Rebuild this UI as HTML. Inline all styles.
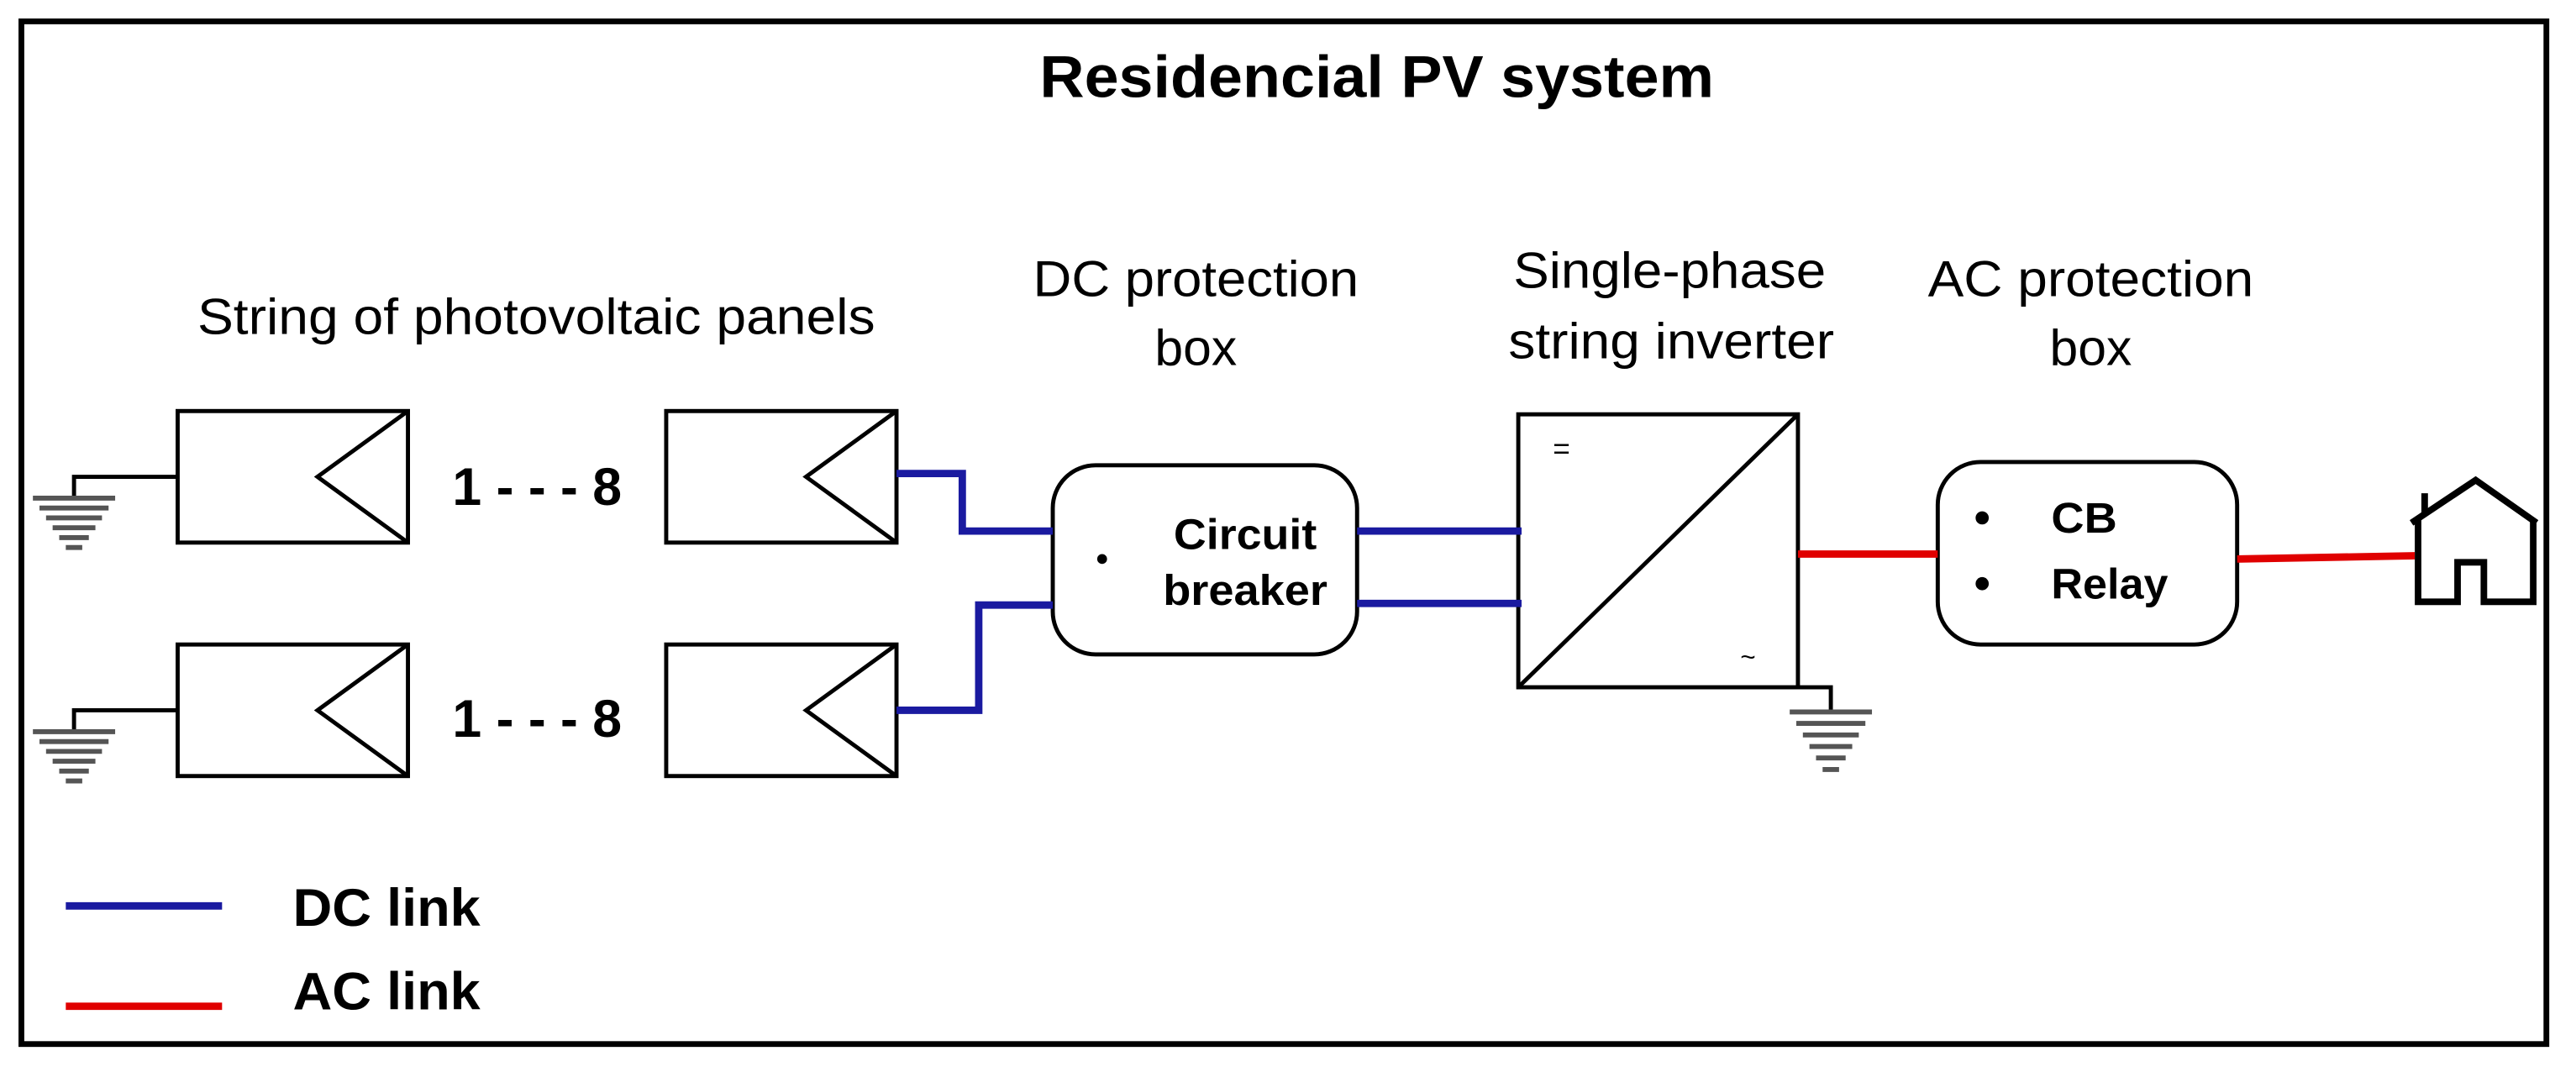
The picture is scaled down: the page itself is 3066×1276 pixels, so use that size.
<!DOCTYPE html>
<html><head><style>html,body{margin:0;padding:0;background:#fff}svg{display:block}</style></head>
<body>
<svg width="3066" height="1276" viewBox="0 0 1566 652" preserveAspectRatio="none" xmlns="http://www.w3.org/2000/svg" font-family="Liberation Sans, Arial, sans-serif">
<rect x="0" y="0" width="1566" height="652" fill="#fff"/>
<rect x="13" y="13" width="1535" height="622" fill="none" stroke="#000" stroke-width="3.5"/>
<text x="837" y="59" text-anchor="middle" font-size="36" font-weight="bold" textLength="410" lengthAdjust="spacingAndGlyphs">Residencial PV system</text>
<g font-size="31" text-anchor="middle">
<text x="326" y="203" textLength="412" lengthAdjust="spacingAndGlyphs">String of photovoltaic panels</text>
<text x="727" y="180" textLength="198" lengthAdjust="spacingAndGlyphs">DC protection</text>
<text x="727" y="222">box</text>
<text x="1015" y="175" textLength="190" lengthAdjust="spacingAndGlyphs">Single-phase</text>
<text x="1016" y="218" textLength="198" lengthAdjust="spacingAndGlyphs">string inverter</text>
<text x="1271" y="180" textLength="198" lengthAdjust="spacingAndGlyphs">AC protection</text>
<text x="1271" y="222">box</text>
</g>
<g fill="none" stroke="#000" stroke-width="2.5">
<rect x="108" y="250" width="140" height="80"/><polyline points="248,250 193,290 248,330"/>
<rect x="405" y="250" width="140" height="80"/><polyline points="545,250 490,290 545,330"/>
<rect x="108" y="392" width="140" height="80"/><polyline points="248,392 193,432 248,472"/>
<rect x="405" y="392" width="140" height="80"/><polyline points="545,392 490,432 545,472"/>
<polyline points="108,290 45,290 45,302"/>
<polyline points="108,432 45,432 45,444"/>
<rect x="640" y="283" width="185" height="115" rx="26"/>
<rect x="923" y="252" width="170" height="166"/>
<line x1="923" y1="418" x2="1093" y2="252"/>
<polyline points="1093,418 1113,418 1113,432"/>
<rect x="1178" y="281" width="182" height="111" rx="26"/>
</g>
<g stroke="#555" stroke-width="3">
<line x1="20" y1="303" x2="70" y2="303"/><line x1="24" y1="309" x2="66" y2="309"/><line x1="28" y1="315" x2="62" y2="315"/><line x1="32" y1="321" x2="58" y2="321"/><line x1="36" y1="327" x2="54" y2="327"/><line x1="40" y1="333" x2="50" y2="333"/>
<line x1="20" y1="445" x2="70" y2="445"/><line x1="24" y1="451" x2="66" y2="451"/><line x1="28" y1="457" x2="62" y2="457"/><line x1="32" y1="463" x2="58" y2="463"/><line x1="36" y1="469" x2="54" y2="469"/><line x1="40" y1="475" x2="50" y2="475"/>
<line x1="1088" y1="433" x2="1138" y2="433"/><line x1="1092" y1="440" x2="1134" y2="440"/><line x1="1096" y1="447" x2="1130" y2="447"/><line x1="1100" y1="454" x2="1126" y2="454"/><line x1="1104" y1="461" x2="1122" y2="461"/><line x1="1108" y1="468" x2="1118" y2="468"/>
</g>
<g font-size="32" font-weight="bold">
<text x="275" y="307" textLength="103" lengthAdjust="spacingAndGlyphs">1 - - - 8</text>
<text x="275" y="448" textLength="103" lengthAdjust="spacingAndGlyphs">1 - - - 8</text>
</g>
<g fill="none" stroke="#1a1aa0" stroke-width="4.5">
<polyline points="545,288 585,288 585,323 640,323"/>
<polyline points="545,432 595,432 595,368 640,368"/>
<line x1="825" y1="323" x2="925" y2="323"/>
<line x1="825" y1="367" x2="925" y2="367"/>
<line x1="40" y1="551" x2="135" y2="551"/>
</g>
<g fill="none" stroke="#e00000" stroke-width="4.5">
<line x1="1093" y1="337" x2="1178" y2="337"/>
<line x1="1360" y1="340" x2="1468" y2="338"/>
<line x1="40" y1="612" x2="135" y2="612"/>
</g>
<circle cx="670" cy="340" r="3" fill="#000"/>
<circle cx="1205" cy="315" r="4" fill="#000"/>
<circle cx="1205" cy="355" r="4" fill="#000"/>
<g font-size="26" font-weight="bold" text-anchor="middle">
<text x="757" y="334" textLength="87" lengthAdjust="spacingAndGlyphs">Circuit</text>
<text x="757" y="368" textLength="100" lengthAdjust="spacingAndGlyphs">breaker</text>
</g>
<g font-size="26" font-weight="bold">
<text x="1247" y="324" textLength="40" lengthAdjust="spacingAndGlyphs">CB</text>
<text x="1247" y="364" textLength="71" lengthAdjust="spacingAndGlyphs">Relay</text>
</g>
<text x="944" y="279" font-size="18">=</text>
<text x="1058" y="405" font-size="16">~</text>
<g fill="none" stroke="#000" stroke-width="4">
<polyline points="1466,318 1505,292 1542,318"/>
<polyline points="1470,316 1470,366 1494,366 1494,342 1510,342 1510,366 1540,366 1540,316"/>
<line x1="1474" y1="300" x2="1474" y2="312"/>
</g>
<g font-size="32" font-weight="bold">
<text x="178" y="563" textLength="114" lengthAdjust="spacingAndGlyphs">DC link</text>
<text x="178" y="614" textLength="114" lengthAdjust="spacingAndGlyphs">AC link</text>
</g>
</svg>
</body></html>
